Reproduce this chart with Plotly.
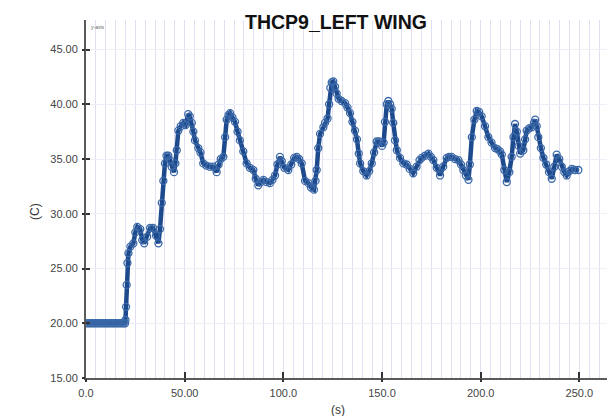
import plotly.graph_objects as go

# ---- data ----
time_s = [0, 1, 2, 3, 4, 5, 6, 7, 8, 9, 10, 11, 12, 13, 14, 15, 16, 17, 18, 19, 19.8,
          20.0, 20.3, 20.6, 21.0, 21.5, 22.5, 24.0, 25.0, 26.0, 27.5, 28.5, 29.5, 31.0, 32.5,
          34.0, 35.5, 36.7, 37.5, 38.4, 39.2, 40.0, 40.8, 41.7, 42.5, 43.4, 44.6, 45.3, 46.0,
          46.8, 48.0, 49.3, 50.5, 51.8, 52.6, 53.6, 54.4, 55.2, 56.9, 58.0, 59.4, 61.0, 62.8,
          64.5, 66.2, 67.2, 68.3, 69.6, 70.5, 71.3, 72.2, 73.0, 74.2, 75.5, 76.8, 78.0, 79.7,
          81.4, 83.0, 84.8, 86.0, 87.3, 88.6, 89.9, 91.5, 93.2, 94.5, 95.8, 97.0, 98.3, 99.2,
          100.5, 102.5, 104.0, 105.5, 106.8, 108.0, 109.3, 111.0, 112.7, 114.0, 115.5, 116.3,
          116.9, 117.7, 118.6, 120.3, 121.1, 122.4, 123.2, 123.8, 124.5, 125.3, 126.2, 127.0,
          128.0, 129.5, 131.3, 132.5, 133.8, 135.0, 136.3, 137.3, 138.2, 138.9, 140.5, 142.2,
          143.5, 144.8, 146.0, 147.3, 148.5, 150.0, 150.8, 151.5, 152.4, 153.2, 154.1, 154.9,
          155.7, 156.6, 157.5, 159.1, 160.8, 162.5, 164.0, 165.8, 167.5, 169.0, 170.1, 171.8,
          173.5, 174.8, 176.0, 177.7, 179.4, 181.0, 182.8, 184.0, 185.3, 187.0, 188.7, 190.0,
          191.2, 192.5, 193.8, 194.5, 195.5, 196.8, 198.0, 199.2, 200.5, 202.2, 203.9, 205.5,
          207.3, 208.5, 209.8, 210.7, 212.0, 213.2, 214.5, 215.7, 216.6, 217.4, 218.3, 219.2,
          220.0, 221.6, 222.5, 223.3, 224.5, 225.9, 227.0, 227.6, 228.4, 229.2, 230.5, 231.8,
          233.2, 234.6, 236.0, 237.3, 238.5, 239.8, 241.1, 242.4, 243.6, 245.0, 246.2, 247.8,
          249.5]
temp_c = [20.0, 20.0, 20.0, 20.0, 20.0, 20.0, 20.0, 20.0, 20.0, 20.0, 20.0, 20.0, 20.0, 20.0,
          20.0, 20.0, 20.0, 20.0, 20.0, 20.0, 20.0,
          20.3, 21.5, 23.5, 25.5, 26.4, 27.0, 27.3, 28.3, 28.8, 28.6, 27.6, 27.3, 27.9, 28.7,
          28.7, 28.0, 27.3, 28.6, 31.0, 33.0, 34.6, 35.3, 35.3, 34.9, 34.3, 33.8, 34.6, 35.8,
          37.6, 38.0, 38.3, 38.1, 39.1, 38.9, 38.3, 37.5, 36.7, 36.0, 35.6, 34.6, 34.4, 34.3,
          34.3, 33.8, 34.5, 35.0, 35.2, 37.0, 38.6, 39.0, 39.2, 38.8, 38.4, 37.5, 36.7, 35.7,
          34.6, 34.2, 34.0, 33.2, 32.6, 32.9, 33.1, 32.9, 32.8, 33.1, 33.5, 34.5, 35.2, 34.8,
          34.2, 34.0, 34.5, 35.1, 35.2, 35.0, 34.6, 33.0, 32.8, 32.4, 32.2, 33.0,
          34.0, 36.0, 37.3, 37.9, 38.3, 38.7, 40.0, 41.5, 42.0, 42.1, 41.6, 41.0,
          40.5, 40.3, 40.1, 39.7, 39.2, 38.4, 37.6, 36.8, 35.5, 34.6, 33.9, 33.5,
          33.9, 34.6, 35.6, 36.6, 36.6, 36.2, 36.5, 38.4, 40.0, 40.3, 40.0, 39.6,
          38.3, 36.7, 35.8, 35.1, 34.6, 34.5, 34.1, 33.7, 34.3, 34.9, 35.1, 35.3,
          35.5, 35.2, 34.9, 34.2, 33.5, 34.3, 35.1, 35.2, 35.2, 35.0, 34.9, 34.5,
          34.0, 33.5, 33.1, 34.5, 37.0, 38.6, 39.4, 39.3, 38.9, 38.0, 37.0, 36.5,
          36.0, 35.9, 35.7, 35.4, 34.0, 32.9, 33.8, 35.2, 37.0, 38.2, 37.5, 36.2,
          35.5, 35.8, 36.8, 37.6, 37.8, 37.9, 38.3, 38.6, 38.0, 37.0, 36.0, 35.1,
          34.5, 33.8, 33.2, 34.3, 35.4, 35.0, 34.3, 33.8, 33.5, 33.9, 34.1, 34.0,
          34.0]

x_tick_vals = [0, 50, 100, 150, 200, 250]
x_tick_text = ["0.0", "50.00", "100.0", "150.0", "200.0", "250.0"]
y_tick_vals = [15, 20, 25, 30, 35, 40, 45]
y_tick_text = ["15.00", "20.00", "25.00", "30.00", "35.00", "40.00", "45.00"]

FONT = "Liberation Sans, Arial, sans-serif"
AXIS_COL = "#5a5a5a"
GRID_COL = "#e0e0f2"
X_RANGE = [0, 264]
Y_RANGE = [15, 47.7]

fig = go.Figure()
fig.add_trace(go.Scatter(
    x=time_s, y=temp_c, mode="lines+markers",
    line=dict(color="#1d4a8c", width=4.5),
    marker=dict(symbol="circle-open", size=7, color="#3a68a8", line=dict(width=1.3)),
    showlegend=False, hoverinfo="skip",
))
# invisible trace on the overlay axes so they render
fig.add_trace(go.Scatter(x=[None], y=[None], xaxis="x2", yaxis="y2", showlegend=False))

fig.update_layout(
    width=607, height=416,
    margin=dict(l=86, r=0, t=20, b=38),
    paper_bgcolor="white", plot_bgcolor="white",
    font=dict(family=FONT, color="#444444", size=11),
    title=dict(text="<b>THCP9_LEFT WING</b>", font=dict(family=FONT, size=19.5, color="#111111"),
               x=336 / 607, xref="container", xanchor="center",
               y=1 - 22.5 / 416, yref="container", yanchor="middle"),
    xaxis=dict(range=X_RANGE, tickvals=x_tick_vals, ticktext=x_tick_text,
               showgrid=True, gridcolor=GRID_COL, gridwidth=1,
               minor=dict(dtick=5, tick0=0, showgrid=True, gridcolor=GRID_COL, gridwidth=1),
               showline=True, linecolor=AXIS_COL, linewidth=2,
               ticks="inside", ticklen=6, tickwidth=2, tickcolor="#333333",
               zeroline=False, tickfont=dict(size=11, color="#444444"),
               ticklabelstandoff=4),
    yaxis=dict(range=Y_RANGE, tickvals=y_tick_vals, ticktext=y_tick_text,
               showgrid=True, gridcolor="#eceef8", gridwidth=1,
               showline=True, linecolor=AXIS_COL, linewidth=2,
               ticks="inside", ticklen=4, tickwidth=2, tickcolor="#333333",
               zeroline=False, tickfont=dict(size=11, color="#444444"),
               ticklabelstandoff=4),
    xaxis2=dict(overlaying="x", range=X_RANGE, tickvals=x_tick_vals, showticklabels=False,
                ticks="outside", ticklen=3, tickwidth=2, tickcolor="#333333",
                showgrid=False, showline=False, zeroline=False, anchor="y2", side="bottom"),
    yaxis2=dict(overlaying="y", range=Y_RANGE, tickvals=y_tick_vals, showticklabels=False,
                ticks="outside", ticklen=3, tickwidth=2, tickcolor="#333333",
                showgrid=False, showline=False, zeroline=False, anchor="x2", side="left"),
)

fig.add_annotation(text="(C)", xref="paper", yref="paper", x=(35 - 86) / 521,
                   y=(416 - 38 - 212) / (416 - 58), xanchor="center", yanchor="middle",
                   textangle=-90, showarrow=False, font=dict(family=FONT, size=12, color="#333333"))
fig.add_annotation(text="(s)", xref="paper", yref="paper", x=(338 - 86) / 521,
                   y=-(410 - 378) / 358, xanchor="center", yanchor="middle",
                   showarrow=False, font=dict(family=FONT, size=12, color="#333333"))
fig.add_annotation(text="y-axis", xref="paper", yref="paper", x=3 / 521, y=1 - 7 / 358,
                   xanchor="left", yanchor="middle", showarrow=False,
                   font=dict(family=FONT, size=5, color="#666666"))

fig.write_html("out.html")
